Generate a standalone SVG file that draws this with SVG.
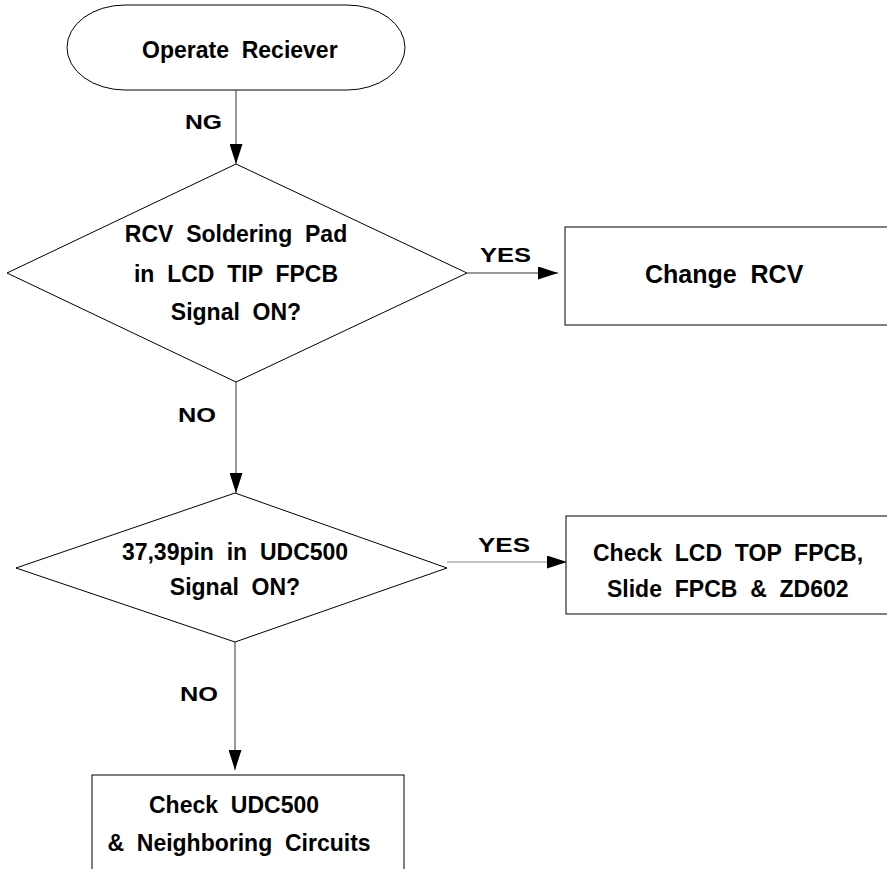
<svg xmlns="http://www.w3.org/2000/svg" width="887" height="869" viewBox="0 0 887 869">
<defs>
<style>
.shape{fill:#fff;stroke:#000;stroke-width:1}
.t{font-family:"Liberation Sans",Arial,sans-serif;font-weight:bold;font-size:23px;fill:#000;white-space:pre}
.lbl{font-family:"Liberation Sans",Arial,sans-serif;font-weight:bold;font-size:21px;fill:#000}
.conn{fill:none;stroke:#333;stroke-width:1}
</style>
<marker id="arr" markerUnits="userSpaceOnUse" markerWidth="20" markerHeight="13" refX="20" refY="6.5" orient="auto">
<path d="M0,0 L20,6.5 L0,13 z" fill="#000"/>
</marker>
</defs>
<rect width="887" height="869" fill="#fff"/>
<g id="start">
<rect class="shape" x="67" y="5" width="338" height="85" rx="58" ry="42.5"/>
<text class="t" x="142" y="58" xml:space="preserve">Operate  Reciever</text>
</g>
<g id="dec1">
<polygon class="shape" points="236,164 467,273 236,382 7,273"/>
<text class="t" x="236" y="242" text-anchor="middle" xml:space="preserve">RCV  Soldering  Pad</text>
<text class="t" x="236" y="282" text-anchor="middle" xml:space="preserve">in  LCD  TIP  FPCB</text>
<text class="t" x="236" y="320" text-anchor="middle" xml:space="preserve">Signal  ON?</text>
</g>
<g id="changeRcv">
<rect class="shape" x="565" y="227" width="340" height="98"/>
<text class="t" x="645" y="283" style="font-size:25px" xml:space="preserve">Change  RCV</text>
</g>
<g id="dec2">
<polygon class="shape" points="235,493 447,568 235,642 16,568"/>
<text class="t" x="235" y="560" text-anchor="middle" xml:space="preserve">37,39pin  in  UDC500</text>
<text class="t" x="235" y="595" text-anchor="middle" xml:space="preserve">Signal  ON?</text>
</g>
<g id="checkLcd">
<rect class="shape" x="566" y="516" width="340" height="98"/>
<text class="t" x="593" y="561" xml:space="preserve">Check  LCD  TOP  FPCB,</text>
<text class="t" x="607" y="597" xml:space="preserve">Slide  FPCB  &amp;  ZD602</text>
</g>
<g id="checkUdc">
<rect class="shape" x="92" y="775" width="312" height="110"/>
<text class="t" x="234" y="813" text-anchor="middle" xml:space="preserve">Check  UDC500</text>
<text class="t" x="239" y="851" text-anchor="middle" xml:space="preserve">&amp;  Neighboring  Circuits</text>
</g>
<g id="connectors">
<path class="conn" d="M236,90 L236,164" marker-end="url(#arr)"/>
<path class="conn" d="M467,273 L558,273" marker-end="url(#arr)"/>
<path class="conn" d="M236,382 L236,493" marker-end="url(#arr)"/>
<path class="conn" d="M447,562 L567,562" style="stroke:#888" marker-end="url(#arr)"/>
<path class="conn" d="M235,642 L235,770" marker-end="url(#arr)"/>
<text class="lbl" x="185" y="129" textLength="37" lengthAdjust="spacingAndGlyphs">NG</text>
<text class="lbl" x="480" y="262" textLength="51" lengthAdjust="spacingAndGlyphs">YES</text>
<text class="lbl" x="178" y="422" textLength="38" lengthAdjust="spacingAndGlyphs">NO</text>
<text class="lbl" x="478" y="552" textLength="52" lengthAdjust="spacingAndGlyphs">YES</text>
<text class="lbl" x="180" y="701" textLength="38" lengthAdjust="spacingAndGlyphs">NO</text>
</g>
</svg>
